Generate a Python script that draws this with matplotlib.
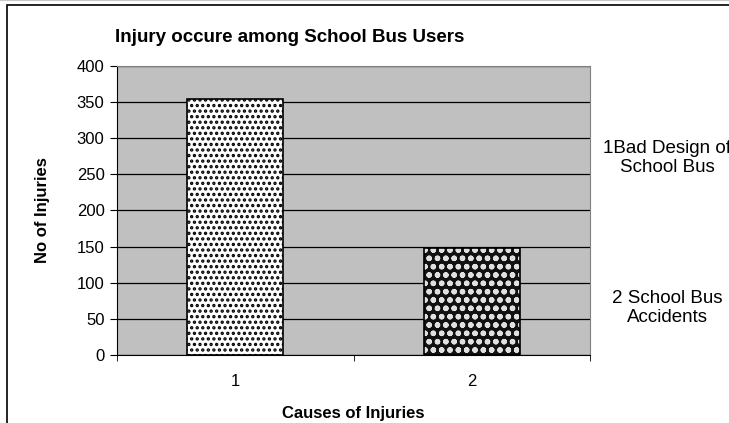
import matplotlib.pyplot as plt
from matplotlib.patches import Rectangle
from matplotlib.lines import Line2D

plt.rcParams['font.family'] = ['Liberation Sans', 'DejaVu Sans']
plt.rcParams['hatch.linewidth'] = 1.6

# data
categories = ['1', '2']
injuries = [355, 148]
legend_labels = ['1Bad Design of\nSchool Bus', '2 School Bus\nAccidents']
y_ticks = [0, 50, 100, 150, 200, 250, 300, 350, 400]

fig = plt.figure(figsize=(7.29, 4.23), dpi=100)
W, H = 729, 423

# faint line at very top and the outer chart border (cut at right/bottom)
fig.add_artist(Line2D([0, 1], [1 - 0.5 / H] * 2, color='#c8c8c8', linewidth=1.5))
fig.patches.append(Rectangle((7 / W, -0.1), 1.2, (H - 5) / H + 0.1,
                             transform=fig.transFigure, fill=False,
                             edgecolor='black', linewidth=1.2))

ax = fig.add_axes([117 / W, 1 - 355 / H, (590 - 117) / W, (355 - 66) / H])
ax.set_facecolor('#C0C0C0')

x = [0, 1]
bar_w = 0.406
# bar 1: white with black dots
ax.bar(x[0], injuries[0], width=bar_w, color='white', edgecolor='black',
       hatch='...', linewidth=0, zorder=3)
# bar 2: dark with round pattern
ax.bar(x[1], injuries[1], width=bar_w, color='#111111', edgecolor='#e0e0e0',
       hatch='oo', linewidth=0, zorder=3)
ax.bar(x, injuries, width=bar_w, fill=False, edgecolor='black',
       linewidth=1.2, zorder=4)

ax.set_xlim(-0.5, 1.5)
ax.set_ylim(0, 400)
ax.set_yticks(y_ticks)
ax.yaxis.grid(True, color='black', linewidth=0.9)
ax.set_axisbelow(True)
ax.tick_params(axis='y', direction='out', length=5, labelsize=12, pad=4)

ax.set_xticks(x)
ax.set_xticklabels(categories)
ax.set_xticks([-0.5, 0.5, 1.5], minor=True)
ax.tick_params(axis='x', which='major', length=0, labelsize=12, pad=14)
ax.tick_params(axis='x', which='minor', direction='out', length=4)

for side in ['top', 'right']:
    ax.spines[side].set_color('#808080')
for side in ['left', 'bottom']:
    ax.spines[side].set_color('black')

ax.set_xlabel('Causes of Injuries', fontsize=12, fontweight='bold', labelpad=12)
ax.set_ylabel('No of Injuries', fontsize=12, fontweight='bold', labelpad=19)

fig.text(290 / W, 1 - 38 / H, 'Injury occure among School Bus Users',
         ha='center', va='center', fontsize=13.5, fontweight='bold')

# legend-like labels on the right
fig.text(667 / W, 1 - 158 / H, legend_labels[0], ha='center', va='center',
         fontsize=13.5, linespacing=1.15)
fig.text(667 / W, 1 - 308 / H, legend_labels[1], ha='center', va='center',
         fontsize=13.5, linespacing=1.15)

fig.savefig('out.png', dpi=100)
